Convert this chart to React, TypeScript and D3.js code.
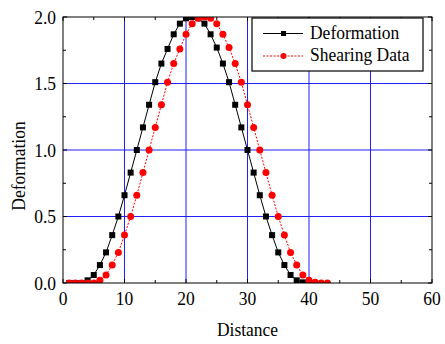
import { useEffect, useRef } from "react";
import * as d3 from "d3";

// distance / deformation
const deformX = [
  1, 2, 3, 4, 5, 6, 7, 8, 9, 10, 11, 12, 13, 14, 15, 16, 17, 18, 19, 20, 21,
  22, 23, 24, 25, 26, 27, 28, 29, 30, 31, 32, 33, 34, 35, 36, 37, 38, 39, 40, 41,
];
const deformY = [
  0, 0, 0, 0.02, 0.06, 0.135, 0.23, 0.36, 0.5, 0.66, 0.83, 1.0, 1.17, 1.34,
  1.51, 1.65, 1.76, 1.87, 1.95, 1.99, 2.0, 1.99, 1.95, 1.87, 1.77, 1.65, 1.51,
  1.34, 1.17, 1.0, 0.83, 0.66, 0.5, 0.36, 0.23, 0.135, 0.06, 0.02, 0.005, 0, 0,
];
const shearX = [
  1, 2, 3, 4, 5, 6, 7, 8, 9, 10, 11, 12, 13, 14, 15, 16, 17, 18, 19, 20, 21,
  22, 23, 24, 25, 26, 27, 28, 29, 30, 31, 32, 33, 34, 35, 36, 37, 38, 39, 40,
  41, 42, 43,
];
const shearY = [
  0, 0, 0, 0, 0, 0.02, 0.06, 0.135, 0.23, 0.36, 0.5, 0.66, 0.83, 1.0, 1.17,
  1.34, 1.51, 1.65, 1.76, 1.87, 1.95, 1.99, 2.0, 1.99, 1.95, 1.87, 1.77, 1.65,
  1.51, 1.34, 1.17, 1.0, 0.83, 0.66, 0.5, 0.36, 0.23, 0.135, 0.06, 0.02, 0.005,
  0, 0,
];
const xTicks = [0, 10, 20, 30, 40, 50, 60];
const yTicks = [0, 0.5, 1.0, 1.5, 2.0];
const seriesNames = ["Deformation", "Shearing Data"];

const W = 445;
const H = 344;
const m = { l: 63, r: 13, t: 17, b: 61 };
const FONT = "'Liberation Serif', 'Times New Roman', serif";

const App = () => {
  const svgRef = useRef<SVGSVGElement>(null);

  useEffect(() => {
    const svg = d3.select(svgRef.current);
    svg.selectAll("*").remove();

    const x = d3.scaleLinear().domain([0, 60]).range([m.l, W - m.r]);
    const y = d3.scaleLinear().domain([0, 2]).range([H - m.b, m.t]);
    const [x0, x1] = x.range();
    const [y0, y1] = y.range();

    // squeeze text a bit, the original font is narrow
    const squeeze = (sel: any) =>
      sel.each(function (this: SVGTextElement) {
        const len = this.getComputedTextLength();
        d3.select(this)
          .attr("textLength", len * 0.92)
          .attr("lengthAdjust", "spacingAndGlyphs");
      });

    svg
      .append("defs")
      .append("clipPath")
      .attr("id", "plotclip")
      .append("rect")
      .attr("x", x0)
      .attr("y", y1)
      .attr("width", x1 - x0)
      .attr("height", y0 - y1);

    // grid
    const grid = svg.append("g").attr("stroke", "#1f1fff").attr("stroke-width", 1);
    xTicks.slice(1, -1).forEach((t) =>
      grid.append("line").attr("x1", x(t)).attr("x2", x(t)).attr("y1", y0).attr("y2", y1)
    );
    yTicks.slice(1, -1).forEach((t) =>
      grid.append("line").attr("y1", y(t)).attr("y2", y(t)).attr("x1", x0).attr("x2", x1)
    );

    // ticks on all four sides, inward
    const tk = svg.append("g").attr("stroke", "black").attr("stroke-width", 1);
    d3.range(0, 61, 5).forEach((t) => {
      const len = t % 10 === 0 ? 4 : 3;
      tk.append("line").attr("x1", x(t)).attr("x2", x(t)).attr("y1", y0).attr("y2", y0 - len);
      tk.append("line").attr("x1", x(t)).attr("x2", x(t)).attr("y1", y1).attr("y2", y1 + len);
    });
    d3.range(0, 2.01, 0.25).forEach((t) => {
      const len = Math.abs((t * 2) % 1) < 1e-6 ? 4 : 3;
      tk.append("line").attr("y1", y(t)).attr("y2", y(t)).attr("x1", x0).attr("x2", x0 + len);
      tk.append("line").attr("y1", y(t)).attr("y2", y(t)).attr("x1", x1).attr("x2", x1 - len);
    });

    // series
    const plot = svg.append("g").attr("clip-path", "url(#plotclip)");
    const deform = deformX.map((d, i) => [d, deformY[i]]);
    const shear = shearX.map((d, i) => [d, shearY[i]]);
    const line = d3
      .line<number[]>()
      .x((d) => x(d[0]))
      .y((d) => y(d[1]));

    plot
      .append("path")
      .attr("d", line(deform))
      .attr("fill", "none")
      .attr("stroke", "black")
      .attr("stroke-width", 1);
    plot
      .selectAll(".sq")
      .data(deform)
      .join("rect")
      .attr("x", (d) => x(d[0]) - 3)
      .attr("y", (d) => y(d[1]) - 3)
      .attr("width", 6)
      .attr("height", 6)
      .attr("fill", "black");

    plot
      .append("path")
      .attr("d", line(shear))
      .attr("fill", "none")
      .attr("stroke", "red")
      .attr("stroke-width", 1)
      .attr("stroke-dasharray", "2,1.5");
    plot
      .selectAll(".ci")
      .data(shear)
      .join("circle")
      .attr("cx", (d) => x(d[0]))
      .attr("cy", (d) => y(d[1]))
      .attr("r", 3.5)
      .attr("fill", "red");

    // frame
    svg
      .append("rect")
      .attr("x", x0)
      .attr("y", y1)
      .attr("width", x1 - x0)
      .attr("height", y0 - y1)
      .attr("fill", "none")
      .attr("stroke", "black")
      .attr("stroke-width", 1);

    const txt = svg
      .append("g")
      .attr("font-family", FONT)
      .attr("font-size", 19)
      .attr("fill", "black");

    // tick labels
    txt
      .selectAll(".xl")
      .data(xTicks)
      .join("text")
      .attr("x", (d) => x(d))
      .attr("y", 305)
      .attr("text-anchor", "middle")
      .text((d) => d)
      .call(squeeze);
    txt
      .selectAll(".yl")
      .data(yTicks)
      .join("text")
      .attr("x", 56)
      .attr("y", (d) => y(d) + 6.5)
      .attr("text-anchor", "end")
      .text((d) => d3.format(".1f")(d))
      .call(squeeze);

    // axis titles
    txt
      .append("text")
      .attr("x", (x0 + x1) / 2)
      .attr("y", 336)
      .attr("text-anchor", "middle")
      .text("Distance")
      .call(squeeze);
    txt
      .append("text")
      .attr("transform", "translate(25,166) rotate(-90)")
      .attr("text-anchor", "middle")
      .text("Deformation")
      .call(squeeze);

    // legend
    const lg = svg.append("g");
    lg.append("rect")
      .attr("x", 252)
      .attr("y", 18)
      .attr("width", 171)
      .attr("height", 53)
      .attr("fill", "white")
      .attr("stroke", "black")
      .attr("stroke-width", 1.2);
    const rows = [33.5, 56];
    lg.append("line")
      .attr("x1", 263).attr("x2", 303)
      .attr("y1", rows[0]).attr("y2", rows[0])
      .attr("stroke", "black");
    lg.append("rect")
      .attr("x", 281).attr("y", rows[0] - 2.5)
      .attr("width", 5).attr("height", 5)
      .attr("fill", "black");
    lg.append("line")
      .attr("x1", 263).attr("x2", 303)
      .attr("y1", rows[1]).attr("y2", rows[1])
      .attr("stroke", "red")
      .attr("stroke-dasharray", "2,1.5");
    lg.append("circle")
      .attr("cx", 283.5).attr("cy", rows[1])
      .attr("r", 3)
      .attr("fill", "red");
    lg.selectAll(".lt")
      .data(seriesNames)
      .join("text")
      .attr("x", 310)
      .attr("y", (d, i) => rows[i] + 5)
      .attr("font-family", FONT)
      .attr("font-size", 19)
      .text((d) => d)
      .call(squeeze);
  }, []);

  return (
    <svg
      ref={svgRef}
      width={W}
      height={H}
      style={{ position: "absolute", left: 0, top: 0, background: "white" }}
    ></svg>
  );
};

export default App;
